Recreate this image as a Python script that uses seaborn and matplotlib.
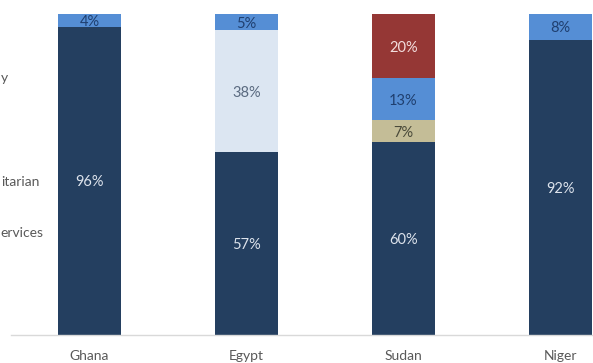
import matplotlib
matplotlib.use("Agg")
import matplotlib.pyplot as plt
import seaborn as sns
import numpy as np
import pandas as pd

countries = ["Ghana", "Egypt", "Sudan", "Niger"]
series = ["Public services", "Humanitarian", "Other", "Security", "Democracy"]
public_services = [96, 57, 60, 92]
humanitarian = [0, 38, 0, 0]
other = [0, 0, 7, 0]
security = [4, 5, 13, 8]
democracy = [0, 0, 20, 0]
# legend labels, visible only partly in the cropped reference
legend_tails = ["y", "itarian", "ervices"]

colors = ["#243F60", "#DCE6F2", "#C4BD97", "#558ED5", "#953735"]
label_colors = ["#DDE3EC", "#5A6A80", "#4A4A3A", "#1F3F6F", "#F3DEDE"]

sns.set_theme(style="white")
plt.rcParams["font.family"] = ["Lato", "DejaVu Sans"]

values = [public_services, humanitarian, other, security, democracy]
cum = np.cumsum(np.array(values, dtype=float), axis=0)

fig = plt.figure(figsize=(5.93, 3.63), dpi=100)
ax = fig.add_axes([11/593, 1-335/363, 1-11/593, (335-14)/363])

for i in range(len(series)-1, -1, -1):
    df = pd.DataFrame({"country": countries, "value": cum[i]})
    sns.barplot(data=df, x="country", y="value", color=colors[i], width=0.4,
                saturation=1, ax=ax, edgecolor="none", linewidth=0)

for i in range(len(series)):
    for j in range(len(countries)):
        v = values[i][j]
        if v > 0:
            yc = cum[i][j] - v/2
            ax.text(j, yc, f"{v}%", ha="center", va="center_baseline", fontsize=10.5,
                    color=label_colors[i])

ax.set_xlim(-0.5, 3.207)
ax.set_ylim(0, 100)
ax.set_xlabel("")
ax.set_ylabel("")
ax.set_yticks([])
for s in ["left", "right", "top"]:
    ax.spines[s].set_visible(False)
ax.spines["bottom"].set_color("#D9D9D9")
ax.spines["bottom"].set_linewidth(1)
ax.tick_params(axis="x", length=0, pad=11, labelsize=10, labelcolor="#595959")

fig.text(0.5/593, 1-78/363, legend_tails[0], ha="left", va="center", fontsize=10, color="#595959")
fig.text(1.5/593, 1-182/363, legend_tails[1], ha="left", va="center", fontsize=10, color="#595959")
fig.text(0.5/593, 1-233/363, legend_tails[2], ha="left", va="center", fontsize=10, color="#595959")

fig.savefig("out.png", dpi=100)
